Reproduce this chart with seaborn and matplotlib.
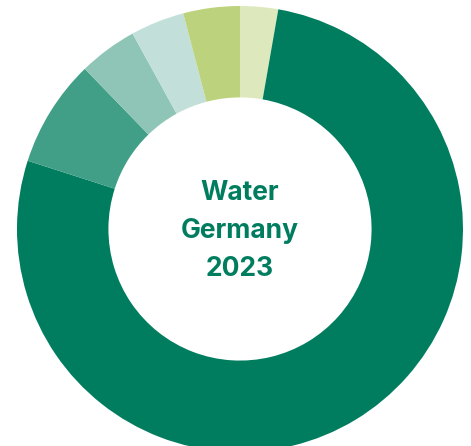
import matplotlib
matplotlib.use("Agg")
import matplotlib.pyplot as plt
import seaborn as sns

sns.set_theme(style="white")
plt.rcParams['font.family'] = ['Inter', 'DejaVu Sans']

categories = ["Cat F", "Cat A", "Cat B", "Cat C", "Cat D", "Cat E"]
values = [2.75, 77.2, 7.8, 4.25, 3.9, 4.1]
colors = ["#dde8bd", "#007d5e", "#409f86", "#8fc5b7", "#c2e0d9", "#bdd27c"]
center_lines = ["Water", "Germany", "2023"]

W, H = 471, 446
fig = plt.figure(figsize=(W / 100, H / 100), dpi=100)
ax = fig.add_axes([0, 0, 1, 1])

cx, cy, R = 240, H - 229, 223
ax.pie(values, colors=colors, startangle=90, counterclock=False,
       radius=R, center=(cx, cy), frame=True,
       wedgeprops=dict(width=R * 0.41, linewidth=0))
ax.set_xlim(0, W)
ax.set_ylim(0, H)
ax.set_aspect("equal")
ax.axis("off")

ax.text(cx, H - 231, "\n".join(center_lines), ha="center", va="center",
        fontsize=19, fontweight="bold", color="#007d5e", linespacing=1.6)

fig.savefig("out.png", dpi=100)
